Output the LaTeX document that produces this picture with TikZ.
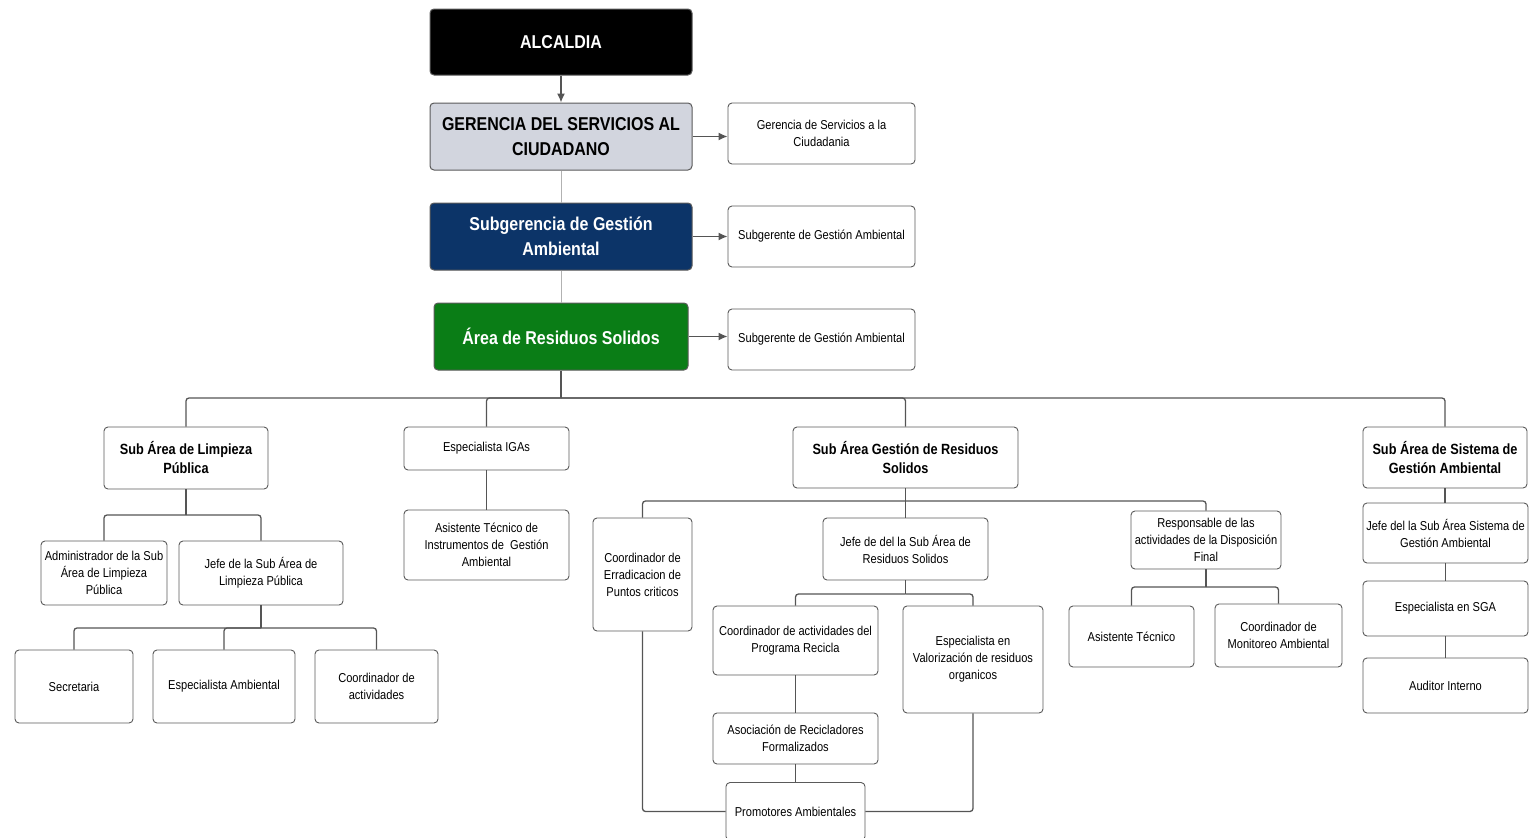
\documentclass[tikz,border=0pt]{standalone}
\usepackage{fontspec}
\usetikzlibrary{arrows.meta}
\setmainfont{Liberation Sans}[FakeStretch=0.86]
\definecolor{gerfill}{RGB}{210,213,222}
\definecolor{subblue}{RGB}{12,52,104}
\definecolor{areagreen}{RGB}{10,125,22}
\definecolor{edgegray}{RGB}{85,85,85}
\definecolor{boxline}{RGB}{90,90,90}
\begin{document}
\begin{tikzpicture}[x=1pt,y=-1pt,
  box/.style={draw=boxline, line width=0.9pt, rounded corners=4pt, align=center, inner sep=2pt, font=\fontsize{12.9}{17}\selectfont, fill=white},
  headbox/.style={box, font=\bfseries\fontsize{14.8}{19}\selectfont},
  topbox/.style={draw=boxline, line width=1pt, rounded corners=4pt, align=center, inner sep=2pt, font=\bfseries\fontsize{18.6}{25}\selectfont},
  link/.style={draw=edgegray, line width=1.3pt, rounded corners=3pt},
  lightlink/.style={draw=gray!60, line width=0.8pt},
  arr/.style={draw=edgegray, line width=1.3pt, -{Latex[length=9pt,width=8pt]}}]
\useasboundingbox (0,0) rectangle (1540,838);
% top chain
\node[topbox, fill=black, text=white, minimum width=262pt, minimum height=66pt] (alc) at (561,42) {ALCALDIA};
\node[topbox, fill=gerfill, minimum width=262pt, minimum height=67pt] (ger) at (561,136.5) {GERENCIA DEL SERVICIOS AL\\CIUDADANO};
\node[topbox, fill=subblue, text=white, minimum width=262pt, minimum height=67pt] (sub) at (561,236.5) {Subgerencia de Gestión\\Ambiental};
\node[topbox, fill=areagreen, text=white, minimum width=254pt, minimum height=67pt] (area) at (561,336.5) {Área de Residuos Solidos};
\node[box, minimum width=187pt, minimum height=61pt] (gerR) at (821.5,133.5) {Gerencia de Servicios a la\\Ciudadania};
\node[box, minimum width=187pt, minimum height=61pt] (subR) at (821.5,236.5) {Subgerente de Gestión Ambiental};
\node[box, minimum width=187pt, minimum height=61pt] (areaR) at (821.5,339.5) {Subgerente de Gestión Ambiental};
\draw[arr] (alc.south) -- (ger.north);
\draw[lightlink] (ger.south) -- (sub.north);
\draw[lightlink] (sub.south) -- (area.north);
\draw[arr] (ger.east) -- (ger.east -| gerR.west);
\draw[arr] (sub.east) -- (sub.east -| subR.west);
\draw[arr] (area.east) -- (area.east -| areaR.west);
% second level
\node[headbox, minimum width=164pt, minimum height=62pt] (lim) at (186,458) {Sub Área de Limpieza\\Pública};
\node[box, minimum width=165pt, minimum height=43pt] (igas) at (486.5,448.5) {Especialista IGAs};
\node[box, minimum width=165pt, minimum height=70pt] (asis) at (486.5,545) {Asistente Técnico de\\Instrumentos de~~Gestión\\Ambiental};
\node[headbox, minimum width=225pt, minimum height=61pt] (ges) at (905.5,457.5) {Sub Área Gestión de Residuos\\Solidos};
\node[headbox, minimum width=164pt, minimum height=61pt] (sis) at (1445,457.5) {Sub Área de Sistema de\\Gestión Ambiental};
\coordinate (b0) at (561,398);
\draw[link] (area.south) -- (b0);
\draw[link] (b0) -| (lim.north);
\draw[link] (b0) -| (igas.north);
\draw[link] (b0) -| (ges.north);
\draw[link] (b0) -| (sis.north);
\draw[link] (igas.south) -- (asis.north);
% limpieza branch
\node[box, minimum width=126pt, minimum height=64pt] (adm) at (104,573) {Administrador de la Sub\\Área de Limpieza\\Pública};
\node[box, minimum width=164pt, minimum height=64pt] (jefl) at (261,573) {Jefe de la Sub Área de\\Limpieza Pública};
\coordinate (b1) at (186,515);
\draw[link] (lim.south) -- (b1);
\draw[link] (b1) -| (adm.north);
\draw[link] (b1) -| (jefl.north);
\node[box, minimum width=118pt, minimum height=73pt] (sec) at (74,686.5) {Secretaria};
\node[box, minimum width=142pt, minimum height=73pt] (espa) at (224,686.5) {Especialista Ambiental};
\node[box, minimum width=123pt, minimum height=73pt] (coa) at (376.5,686.5) {Coordinador de\\actividades};
\coordinate (b2) at (261,628);
\draw[link] (jefl.south) -- (b2);
\draw[link] (b2) -| (sec.north);
\draw[link] (b2) -| (espa.north);
\draw[link] (b2) -| (coa.north);
% gestion branch
\node[box, minimum width=99pt, minimum height=113pt] (coe) at (642.5,574.5) {Coordinador de\\Erradicacion de\\Puntos criticos};
\node[box, minimum width=165pt, minimum height=62pt] (jefr) at (905.5,549) {Jefe de del la Sub Área de\\Residuos Solidos};
\node[box, minimum width=150pt, minimum height=58pt] (resp) at (1206,540) {Responsable de las\\actividades de la Disposición\\Final};
\coordinate (b3) at (905.5,501);
\draw[link] (ges.south) -- (b3);
\draw[link] (b3) -| (coe.north);
\draw[link] (b3) -| (jefr.north);
\draw[link] (b3) -| (resp.north);
\node[box, minimum width=165pt, minimum height=69pt] (cpr) at (795.5,640.5) {Coordinador de actividades del\\Programa Recicla};
\node[box, minimum width=140pt, minimum height=107pt] (val) at (973,659.5) {Especialista en\\Valorización de residuos\\organicos};
\coordinate (b4) at (905.5,594);
\draw[link] (jefr.south) -- (b4);
\draw[link] (b4) -| (cpr.north);
\draw[link] (b4) -| (val.north);
\node[box, minimum width=165pt, minimum height=51pt] (asoc) at (795.5,738.5) {Asociación de Recicladores\\Formalizados};
\node[box, minimum width=139pt, minimum height=58pt] (prom) at (795.5,811.5) {Promotores Ambientales};
\draw[link] (cpr.south) -- (asoc.north);
\draw[link] (asoc.south) -- (prom.north);
\draw[link] (coe.south) |- (prom.west);
\draw[link] (val.south) |- (prom.east);
\node[box, minimum width=125pt, minimum height=61pt] (ast) at (1131.5,636.5) {Asistente Técnico};
\node[box, minimum width=127pt, minimum height=63pt] (cmon) at (1278.5,635.5) {Coordinador de\\Monitoreo Ambiental};
\coordinate (b5) at (1206,587);
\draw[link] (resp.south) -- (b5);
\draw[link] (b5) -| (ast.north);
\draw[link] (b5) -| (cmon.north);
% sistema branch
\node[box, minimum width=165pt, minimum height=60pt] (jefs) at (1445.5,533) {Jefe del la Sub Área Sistema de\\Gestión Ambiental};
\node[box, minimum width=165pt, minimum height=55pt] (sga) at (1445.5,608.5) {Especialista en SGA};
\node[box, minimum width=165pt, minimum height=55pt] (aud) at (1445.5,685.5) {Auditor Interno};
\draw[link] (sis.south) -- (sis.south |- jefs.north);
\draw[link] (jefs.south) -- (jefs.south |- sga.north);
\draw[link] (sga.south) -- (sga.south |- aud.north);
\end{tikzpicture}
\end{document}
